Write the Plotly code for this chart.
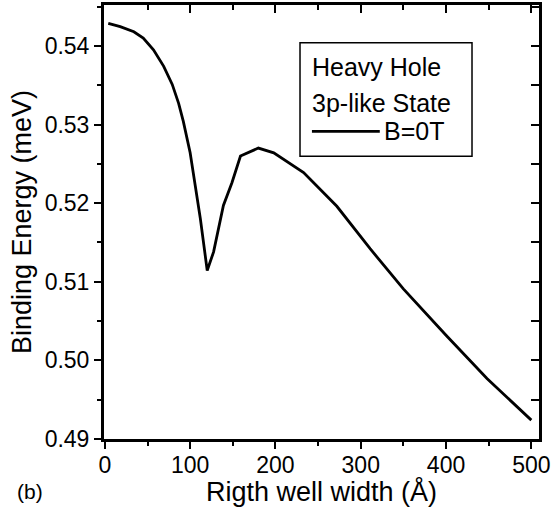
import plotly.graph_objects as go

# Data
well_width = [4, 18, 34, 45, 57, 69, 79, 86.5, 92, 96, 100, 106, 112, 120, 127.5, 139, 149, 159,
              180, 198, 215.5, 233, 272, 311, 350, 400, 448, 500]
binding_energy = [0.54287, 0.54245, 0.5418, 0.5410, 0.5395, 0.5374, 0.5351, 0.5327, 0.5304, 0.5283,
                  0.5264, 0.5222, 0.5180, 0.51143, 0.5138, 0.5197, 0.5226, 0.5260,
                  0.5270, 0.5264, 0.5251, 0.5239, 0.5196, 0.5142, 0.5091, 0.5032, 0.4977, 0.4924]
x_ticks = [0, 100, 200, 300, 400, 500]
y_ticks = [0.49, 0.50, 0.51, 0.52, 0.53, 0.54]
y_tick_labels = ["0.49", "0.50", "0.51", "0.52", "0.53", "0.54"]

FONT = "Liberation Sans, Arial, Helvetica, sans-serif"
X_RANGE = [-1, 509]
Y_RANGE = [0.49, 0.5452]

fig = go.Figure()
fig.add_trace(go.Scatter(x=well_width, y=binding_energy, mode="lines",
                         line=dict(color="black", width=2.8), showlegend=False,
                         name="B=0T"))
# invisible trace to drive the mirrored axes
fig.add_trace(go.Scatter(x=[None], y=[None], xaxis="x2", yaxis="y2", showlegend=False))

common = dict(showgrid=False, zeroline=False, linecolor="black", linewidth=3,
              tickcolor="black", tickwidth=2, tickfont=dict(family=FONT, size=23, color="black"))

fig.update_layout(
    width=558, height=507,
    margin=dict(l=104, r=19, t=5, b=66),
    paper_bgcolor="white", plot_bgcolor="white",
    font=dict(family=FONT, color="black"),
    xaxis=dict(range=X_RANGE, tickvals=x_ticks, ticks="outside", ticklen=7,
               minor=dict(dtick=50, tick0=0, ticks="outside", ticklen=4, tickwidth=2, tickcolor="black"),
               title=dict(text="Rigth well width (Å)", font=dict(family=FONT, size=27), standoff=6),
               ticklabelstandoff=-4,
               showline=True, **common),
    yaxis=dict(range=Y_RANGE, tickvals=y_ticks, ticktext=y_tick_labels, ticks="outside", ticklen=7,
               minor=dict(dtick=0.005, tick0=0.49, ticks="outside", ticklen=4, tickwidth=2, tickcolor="black"),
               title=dict(text="Binding Energy (meV)", font=dict(family=FONT, size=27), standoff=6),
               showline=True, **common),
    xaxis2=dict(range=X_RANGE, overlaying="x", side="top", tickvals=[100, 200, 300, 400, 500],
                ticks="inside", ticklen=8, showticklabels=False, showline=True,
                minor=dict(dtick=50, tick0=0, ticks="inside", ticklen=5, tickwidth=2, tickcolor="black"),
                **common),
    yaxis2=dict(range=Y_RANGE, overlaying="y", side="right", tickvals=y_ticks,
                ticks="inside", ticklen=8, showticklabels=False, showline=True,
                minor=dict(dtick=0.005, tick0=0.49, ticks="inside", ticklen=8, tickwidth=2, tickcolor="black"),
                **common),
)

# Legend box drawn manually
fig.add_shape(type="rect", xref="paper", yref="paper", x0=0.4506, x1=0.846, y0=0.6514, y1=0.9128,
              line=dict(color="black", width=1.5), fillcolor="white")
fig.add_shape(type="line", xref="paper", yref="paper", x0=0.478, x1=0.634, y0=0.709, y1=0.709,
              line=dict(color="black", width=2.8))
leg_font = dict(family=FONT, size=25, color="black")
fig.add_annotation(xref="paper", yref="paper", x=0.474, y=0.858, xanchor="left", yanchor="middle",
                   text="Heavy Hole", showarrow=False, font=leg_font)
fig.add_annotation(xref="paper", yref="paper", x=0.474, y=0.775, xanchor="left", yanchor="middle",
                   text="3p-like State", showarrow=False, font=leg_font)
fig.add_annotation(xref="paper", yref="paper", x=0.638, y=0.709, xanchor="left", yanchor="middle",
                   text="B=0T", showarrow=False, font=leg_font)
# panel label
fig.add_annotation(xref="paper", yref="paper", x=-0.205, y=-0.122, xanchor="left", yanchor="middle",
                   text="(b)", showarrow=False, font=dict(family=FONT, size=21, color="black"))

fig.write_html("out.html")
